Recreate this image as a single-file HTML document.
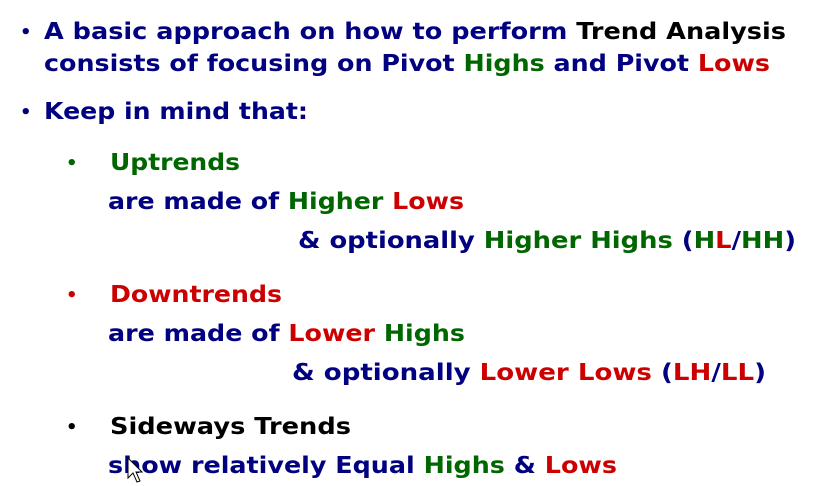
<!DOCTYPE html>
<html><head><meta charset="utf-8"><style>
html,body{margin:0;padding:0;background:#fff;}
svg{display:block}
text{font-family:"DejaVu Sans","Liberation Sans",sans-serif;font-weight:bold;font-size:23px;}
text.b{font-size:18px;}
.n{fill:#000080}.g{fill:#006600}.r{fill:#cc0000}.k{fill:#000}
</style></head><body>
<svg width="830" height="486" viewBox="0 0 830 486">
<rect width="830" height="486" fill="#fff"/>
<text x="20" y="38" class="n b">•</text>
<text x="44" y="39" textLength="742" lengthAdjust="spacingAndGlyphs" class="n">A basic approach on how to perform <tspan class="k">Trend Analysis</tspan></text>
<text x="44" y="71" textLength="726" lengthAdjust="spacingAndGlyphs" class="n">consists of focusing on Pivot <tspan class="g">Highs</tspan> and Pivot <tspan class="r">Lows</tspan></text>
<text x="20" y="118" class="n b">•</text>
<text x="44" y="119" textLength="264" lengthAdjust="spacingAndGlyphs" class="n">Keep in mind that:</text>

<text x="66" y="169" class="g b">•</text>
<text x="110" y="170" textLength="130" lengthAdjust="spacingAndGlyphs" class="g">Uptrends</text>
<text x="108" y="209" textLength="356" lengthAdjust="spacingAndGlyphs" class="n">are made of <tspan class="g">Higher</tspan> <tspan class="r">Lows</tspan></text>
<text x="298" y="248" textLength="498" lengthAdjust="spacingAndGlyphs" class="n">&amp; optionally <tspan class="g">Higher Highs</tspan> (<tspan class="g">H</tspan><tspan class="r">L</tspan>/<tspan class="g">HH</tspan>)</text>

<text x="66" y="301" class="r b">•</text>
<text x="110" y="302" textLength="172" lengthAdjust="spacingAndGlyphs" class="r">Downtrends</text>
<text x="108" y="341" textLength="357" lengthAdjust="spacingAndGlyphs" class="n">are made of <tspan class="r">Lower</tspan> <tspan class="g">Highs</tspan></text>
<text x="292" y="380" textLength="474" lengthAdjust="spacingAndGlyphs" class="n">&amp; optionally <tspan class="r">Lower Lows</tspan> (<tspan class="r">LH</tspan>/<tspan class="r">LL</tspan>)</text>

<text x="66" y="433" class="k b">•</text>
<text x="110" y="434" textLength="241" lengthAdjust="spacingAndGlyphs" class="k">Sideways Trends</text>
<text x="108" y="473" textLength="509" lengthAdjust="spacingAndGlyphs" class="n">show relatively Equal <tspan class="g">Highs</tspan> &amp; <tspan class="r">Lows</tspan></text>

<path d="M128 458 L128 478 L133 473 L137 482 L140 481 L136 472 L142 472 Z" fill="#fff" stroke="#000" stroke-width="1"/>
</svg>
</body></html>
